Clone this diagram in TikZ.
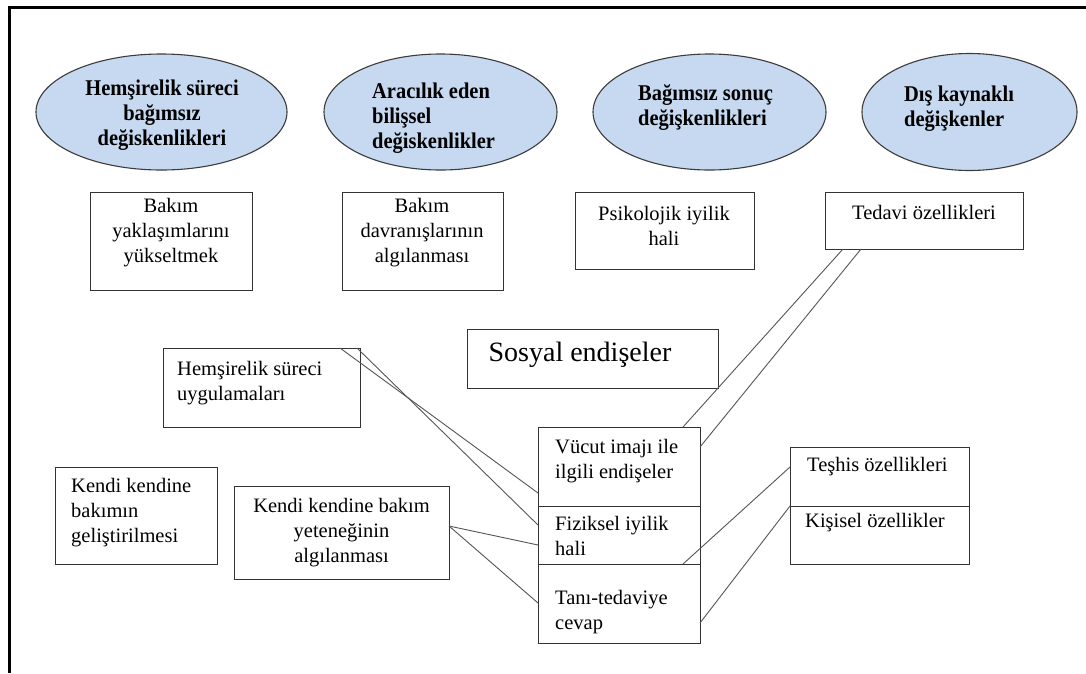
\documentclass[tikz,border=0pt]{standalone}
\usepackage{fontspec}
\setmainfont{Liberation Serif}
\newfontfamily\ellfont[FakeStretch=0.91]{Liberation Serif}
\usetikzlibrary{shapes.geometric,calc}
\definecolor{ellfill}{HTML}{C6D9F0}
\definecolor{ellline}{HTML}{3C3C3C}
\definecolor{boxline}{HTML}{333333}
\definecolor{connline}{HTML}{555555}
\begin{document}
\begin{tikzpicture}[x=1pt,y=-1pt,
  ell/.style={ellipse, draw=ellline, fill=ellfill, line width=1.1pt, inner sep=0pt, outer sep=0pt},
  box/.style={draw=boxline, line width=1pt, fill=white, inner sep=0pt, outer sep=0pt, anchor=north west},
  etxt/.style={font=\ellfont\fontsize{22.5}{25}\selectfont\bfseries, inner sep=0pt, text=black},
  btxt/.style={font=\fontsize{20.5}{25}\selectfont, inner sep=0pt, text=black},
  connector/.style={draw=connline, line width=0.9pt}]
\useasboundingbox (0,0) rectangle (1086,673);
\fill[white] (0,0) rectangle (1086,673);
\draw[line width=3pt] (9,673) -- (9,7) -- (1086,7);

% ellipses
\node[ell, minimum width=251pt, minimum height=116pt] (E1) at (161.5,112) {};
\node[ell, minimum width=233pt, minimum height=116pt] (E2) at (440.5,112) {};
\node[ell, minimum width=233pt, minimum height=116pt] (E3) at (709.5,112) {};
\node[ell, minimum width=215pt, minimum height=117pt] (E4) at (969.5,112) {};
\node[etxt, align=center] (tE1) at (162,115) {Hemşirelik süreci\\bağımsız\\değiskenlikleri};
\node[etxt, align=left, anchor=west] (tE2) at (372,118) {Aracılık eden\\bilişsel\\değiskenlikler};
\node[etxt, align=left, anchor=west] (tE3) at (638,108) {Bağımsız sonuç\\değişkenlikleri};
\node[etxt, align=left, anchor=west] (tE4) at (904,109) {Dış kaynaklı\\değişkenler};

% boxes
\node[box, minimum width=162pt, minimum height=98pt] (A) at (90,192) {};
\node[box, minimum width=161pt, minimum height=98pt] (B) at (342,192) {};
\node[box, minimum width=179pt, minimum height=77pt] (P) at (575,192) {};
\node[box, minimum width=198pt, minimum height=57pt] (T) at (825,192) {};
\node[box, minimum width=251pt, minimum height=59pt] (S) at (467,329) {};
\node[box, minimum width=197pt, minimum height=79pt] (H) at (163,348) {};
\node[box, minimum width=162pt, minimum height=97pt] (K1) at (55,467) {};
\node[box, minimum width=215pt, minimum height=93pt] (K2) at (234,486) {};
\node[box, minimum width=162pt, minimum height=79pt] (V) at (538,427) {};
\node[box, minimum width=162pt, minimum height=58pt] (F) at (538,506) {};
\node[box, minimum width=162pt, minimum height=79pt] (Tn) at (538,564) {};
\node[box, minimum width=179pt, minimum height=59pt] (Ts) at (790,447) {};
\node[box, minimum width=179pt, minimum height=58pt] (Ki) at (790,506) {};

% box texts
\node[btxt, align=center] (tA) at (171,233) {Bakım\\yaklaşımlarını\\yükseltmek};
\node[btxt, align=center] (tB) at (422,233) {Bakım\\davranışlarının\\algılanması};
\node[btxt, align=center] (tP) at (664,226) {Psikolojik iyilik\\hali};
\node[btxt, align=center] (tT) at (924,212) {Tedavi özellikleri};
\node[inner sep=0pt, font=\fontsize{28}{32}\selectfont] (tS) at (580,355) {Sosyal endişeler};
\node[btxt, align=left, anchor=west] (tH) at (177,383) {Hemşirelik süreci\\uygulamaları};
\node[btxt, align=left, anchor=west] (tK1) at (71,513) {Kendi kendine\\bakımın\\geliştirilmesi};
\node[btxt, align=center] (tK2) at (341.5,533) {Kendi kendine bakım\\yeteneğinin\\algılanması};
\node[btxt, align=left, anchor=west] (tV) at (555,461) {Vücut imajı ile\\ilgili endişeler};
\node[btxt, align=left, anchor=west] (tF) at (555,536) {Fiziksel iyilik\\hali};
\node[btxt, align=left, anchor=west] (tTn) at (555,612) {Tanı-tedaviye\\cevap};
\node[btxt, align=left, anchor=west] (tTs) at (807,467) {Teşhis özellikleri};
\node[btxt, align=left, anchor=west] (tKi) at (805,523) {Kişisel özellikler};

% connectors
\draw[connector] ($(H.north east)+(-20,0)$) -- ($(V.north west)+(0,66)$);
\draw[connector] ($(H.north east)+(-3,0)$) -- ($(F.north west)+(0,19)$);
\draw[connector] ($(K2.north east)+(0,40)$) -- ($(F.north west)+(0,39)$);
\draw[connector] ($(K2.north east)+(0,40)$) -- ($(Tn.north west)+(0,39)$);
\draw[connector] ($(T.south west)+(18,0)$) -- ($(V.north east)+(-17,0)$);
\draw[connector] ($(T.south west)+(36,0)$) -- ($(V.north east)+(0,20)$);
\draw[connector] ($(Ts.north west)+(0,20)$) -- ($(F.south east)+(-17,0)$);
\draw[connector] (Ts.south west) -- ($(Tn.north east)+(0,59)$);
\end{tikzpicture}
\end{document}
